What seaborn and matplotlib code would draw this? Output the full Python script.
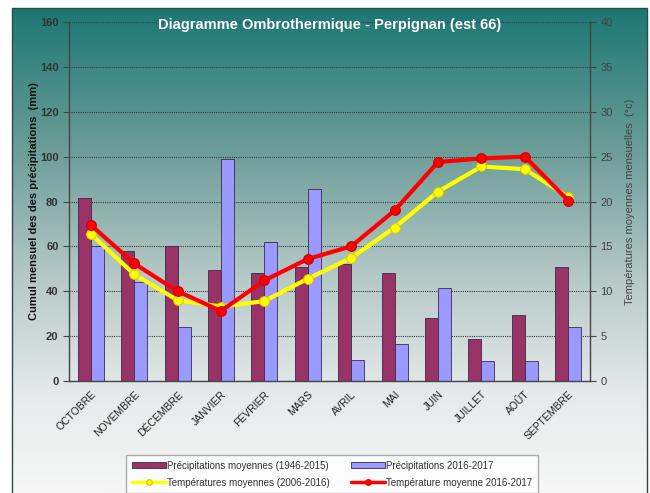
import numpy as np
import pandas as pd
import matplotlib
matplotlib.use("Agg")
import matplotlib.pyplot as plt
import seaborn as sns
from matplotlib.colors import LinearSegmentedColormap
from matplotlib.patches import Rectangle, Patch
from matplotlib.lines import Line2D

# Données
mois = ["OCTOBRE", "NOVEMBRE", "DÉCEMBRE", "JANVIER", "FÉVRIER", "MARS",
        "AVRIL", "MAI", "JUIN", "JUILLET", "AOÛT", "SEPTEMBRE"]
precip_moy = [81.5, 58, 60, 49.5, 48, 51, 52, 48, 28, 18.5, 29.5, 51]
precip_2016 = [60, 44, 24, 99, 62, 85.5, 9.5, 16.5, 41.5, 9, 9, 24]
temp_moy = [16.4, 11.9, 9.0, 8.3, 8.9, 11.4, 13.7, 17.1, 21.1, 23.9, 23.6, 20.5]
temp_2016 = [17.4, 13.1, 10.0, 7.8, 11.2, 13.6, 15.0, 19.0, 24.4, 24.8, 25.0, 20.1]

lab_pm = "Précipitations moyennes (1946-2015)"
lab_p16 = "Précipitations 2016-2017"
lab_tm = "Températures moyennes (2006-2016)"
lab_t16 = "Température moyenne 2016-2017"

sns.set_style("white")
plt.rcParams['font.family'] = ['Liberation Sans', 'DejaVu Sans']

bars = pd.DataFrame({
    "mois": mois * 2,
    "serie": [lab_pm] * 12 + [lab_p16] * 12,
    "valeur": precip_moy + precip_2016,
})

fig = plt.figure(figsize=(6.5, 4.93), dpi=100)

# fond dégradé
bg = fig.add_axes([0, 0, 1, 1], zorder=-10)
bg.axis("off")
cmap = LinearSegmentedColormap.from_list(
    "fond", [(0.0, "#1c7773"), (0.3, "#6e9e9a"), (0.55, "#b4c8c6"),
             (0.8, "#e6eaea"), (1.0, "#f7f7f7")])
bg.imshow(np.linspace(0, 1, 256).reshape(-1, 1), aspect="auto", cmap=cmap,
          extent=[12 / 650, 647 / 650, 0, 1 - 8 / 493])
bg.add_patch(Rectangle((12 / 650, -0.01), 635 / 650, 1.01 - 8 / 493,
                       fill=False, edgecolor="#2b4a48", lw=1.0))
bg.set_xlim(0, 1)
bg.set_ylim(0, 1)

ax = fig.add_axes([69 / 650, 1 - 381 / 493, 521 / 650, 359 / 493])
ax.patch.set_alpha(0)

sns.barplot(data=bars, x="mois", y="valeur", hue="serie",
            palette=["#993366", "#9999ff"], width=0.6, saturation=1,
            edgecolor="#3a2a4a", linewidth=0.6, ax=ax, legend=False)

ax.set_ylim(0, 160)
ax.set_xlim(-0.5, 11.5)
ax.set_yticks(np.arange(0, 161, 20))
ax.yaxis.grid(True, color="#3a3a3a", linestyle=(0, (1, 1)), linewidth=0.8)
ax.set_axisbelow(True)
ax.set_xlabel("")
ax.set_ylabel("Cumul mensuel des des précipitations  (mm)", fontsize=8,
              fontweight="bold", color="#111111")
ax.yaxis.set_label_coords(-0.058, 0.5)

ax.set_xticks(range(12))
ax.set_xticklabels(mois, rotation=45, ha="right", rotation_mode="anchor",
                   fontsize=7.5, color="#222222")
ax.set_xticks(np.arange(-0.5, 12, 1), minor=True)
ax.tick_params(axis="x", which="major", length=0, pad=6)
ax.tick_params(axis="x", which="minor", length=4, color="#444444", direction="out")
ax.tick_params(axis="y", length=4, color="#444444", labelsize=8,
               labelcolor="#333333", direction="out", left=True)
for t in ax.get_yticklabels():
    t.set_fontweight("bold")

for side in ["left", "bottom", "right"]:
    ax.spines[side].set_color("#444444")
    ax.spines[side].set_linewidth(1.0)
ax.spines["top"].set_visible(False)

# températures sur l'axe de droite
ax2 = ax.twinx()
x = np.arange(12)
sns.lineplot(x=x, y=temp_moy, ax=ax2, color="#ffff00", linewidth=3,
             marker="o", markersize=7, markeredgecolor="#e6c800",
             markeredgewidth=0.8)
sns.lineplot(x=x, y=temp_2016, ax=ax2, color="#ff0000", linewidth=3,
             marker="o", markersize=7, markeredgecolor="#cc0000",
             markeredgewidth=0.8)
ax2.set_ylim(0, 40)
ax2.set_yticks(np.arange(0, 41, 5))
ax2.tick_params(axis="y", length=4, color="#444444", labelsize=8,
                labelcolor="#444444", direction="out", right=True)
ax2.set_ylabel("Températures moyennes mensuelles  (°c)", fontsize=8,
               color="#444444")
ax2.yaxis.set_label_coords(1.067, 0.5)
for side in ["left", "bottom", "right", "top"]:
    ax2.spines[side].set_visible(False)

ax.text(0.5, 0.992, "Diagramme Ombrothermique - Perpignan (est 66)",
        transform=ax.transAxes, ha="center", va="center", color="white",
        fontweight="bold", fontsize=10.5, zorder=20)

handles = [
    Patch(facecolor="#993366", edgecolor="#3a2a4a", linewidth=0.6, label=lab_pm),
    Line2D([], [], color="#ffff00", lw=2.5, marker="o", markersize=4,
           markeredgecolor="#e6c800", label=lab_tm),
    Patch(facecolor="#9999ff", edgecolor="#3a2a4a", linewidth=0.6, label=lab_p16),
    Line2D([], [], color="#ff0000", lw=2.5, marker="o", markersize=4,
           label=lab_t16),
]
leg = fig.legend(handles=handles, ncol=2, loc="upper left",
                 bbox_to_anchor=(126 / 650, 1 - 455 / 493), fontsize=7,
                 frameon=True, fancybox=False, edgecolor="#999999",
                 handlelength=3.5, handleheight=0.6, handletextpad=0.1,
                 columnspacing=2.2, borderpad=0.6, labelspacing=0.7,
                 borderaxespad=0)
leg.get_frame().set_linewidth(1.0)
for t in leg.get_texts():
    t.set_color("#333333")

fig.savefig("out.png", dpi=100)
